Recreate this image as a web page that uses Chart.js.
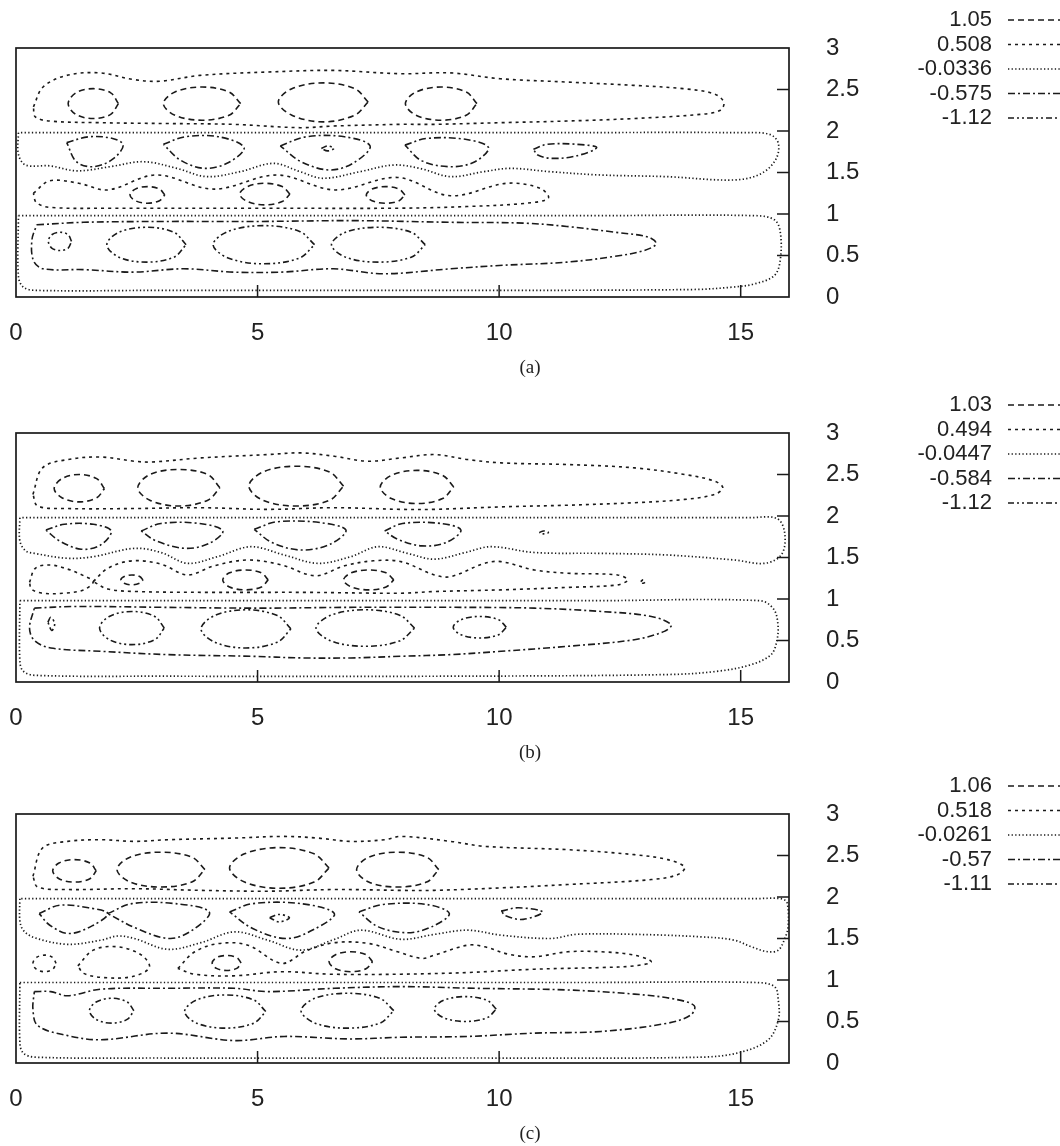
<!DOCTYPE html>
<html>
<head>
<meta charset="utf-8">
<script src="https://cdn.jsdelivr.net/npm/chart.js@4.4.1/dist/chart.umd.min.js"></script>
<style>
  body { margin: 0; background: #fff; }
  #page { position: relative; width: 1060px; height: 1146px; overflow: hidden; }
  canvas { position: absolute; left: 0; }
  .cap { position: absolute; left: 0; width: 1060px; text-align: center;
         font: 19px 'Liberation Serif', 'Times New Roman', serif; color: #222; line-height: 22px; }
</style>
</head>
<body>
<div id="page">
  <canvas id="pa" width="1060" height="380" style="top:0"></canvas>
  <canvas id="pb" width="1060" height="380" style="top:385px"></canvas>
  <canvas id="pc" width="1060" height="380" style="top:766px"></canvas>
  <div class="cap" style="top:356px">(a)</div>
  <div class="cap" style="top:741px">(b)</div>
  <div class="cap" style="top:1122px">(c)</div>
</div>
<script>
'use strict';

// contour levels of each panel (legend)
const levelsA = ['1.05', '0.508', '-0.0336', '-0.575', '-1.12'];
const levelsB = ['1.03', '0.494', '-0.0447', '-0.584', '-1.12'];
const levelsC = ['1.06', '0.518', '-0.0261', '-0.57', '-1.11'];

const xTicks = [0, 5, 10, 15];
const yTicks = [0, 0.5, 1, 1.5, 2, 2.5, 3];

// ---- panel (a) contours, [x, y] ----
const aDot1 = [[0.05,1.98],[0.05,1.72],[0.2,1.59],[0.7,1.58],[1.26,1.52],[1.95,1.57],[2.64,1.63],[3.33,1.55],[3.95,1.45],[4.64,1.51],[5.33,1.61],[5.88,1.51],[6.36,1.43],[7.12,1.51],[7.81,1.59],[8.36,1.55],[8.99,1.45],[9.68,1.51],[10.23,1.55],[11.05,1.51],[12.09,1.47],[13.47,1.45],[14.85,1.41],[15.4,1.48],[15.72,1.65],[15.78,1.85],[15.6,1.96],[15.0,1.98],[11,1.98],[6,1.98],[0.05,1.98]];
const aDot2 = [[0.05,0.98],[6,0.98],[12,0.98],[15.3,0.98],[15.7,0.93],[15.82,0.78],[15.82,0.45],[15.7,0.26],[15.3,0.16],[14.85,0.12],[14.0,0.09],[9,0.08],[3,0.08],[0.4,0.08],[0.15,0.12],[0.05,0.25],[0.05,0.98]];
const aSd1 = [[0.36,2.29],[0.56,2.53],[1.05,2.67],[1.74,2.70],[2.43,2.62],[2.98,2.60],[3.81,2.67],[5.19,2.71],[6.57,2.73],[7.95,2.69],[8.99,2.70],[10.02,2.63],[11.4,2.59],[12.78,2.55],[13.81,2.51],[14.44,2.45],[14.65,2.35],[14.58,2.25],[14.16,2.20],[12.78,2.15],[11.4,2.12],[10.02,2.10],[8.64,2.08],[7.95,2.08],[6.57,2.06],[5.88,2.04],[4.5,2.08],[3.12,2.09],[1.74,2.10],[0.7,2.12],[0.4,2.17],[0.36,2.29]];
const aSd2 = [[0.36,1.25],[0.7,1.40],[1.3,1.37],[1.9,1.29],[2.9,1.47],[4.1,1.30],[5.4,1.47],[6.6,1.29],[7.9,1.44],[8.99,1.22],[10.16,1.37],[10.85,1.31],[11.02,1.19],[10.57,1.13],[9.33,1.09],[7.95,1.07],[5,1.07],[2,1.07],[0.7,1.08],[0.42,1.14],[0.36,1.25]];
const aLd1 = [[2.12,2.33],[1.96,2.46],[1.6,2.51],[1.24,2.46],[1.08,2.33],[1.24,2.20],[1.6,2.15],[1.96,2.20]];
const aLd2 = [[4.65,2.33],[4.41,2.47],[3.85,2.53],[3.29,2.47],[3.05,2.33],[3.29,2.19],[3.85,2.13],[4.41,2.19]];
const aLd3 = [[7.29,2.35],[7.01,2.51],[6.36,2.58],[5.71,2.51],[5.43,2.35],[5.71,2.19],[6.36,2.11],[7.01,2.19]];
const aLd4 = [[9.54,2.33],[9.32,2.47],[8.8,2.53],[8.28,2.47],[8.06,2.33],[8.28,2.19],[8.8,2.13],[9.32,2.19]];
const aLd5 = [[3.08,1.23],[2.97,1.30],[2.72,1.33],[2.47,1.30],[2.36,1.23],[2.47,1.16],[2.72,1.13],[2.97,1.16]];
const aLd6 = [[5.67,1.24],[5.51,1.33],[5.15,1.37],[4.79,1.33],[4.63,1.24],[4.79,1.15],[5.15,1.11],[5.51,1.15]];
const aLd7 = [[8.05,1.23],[7.93,1.30],[7.65,1.33],[7.37,1.30],[7.25,1.23],[7.37,1.16],[7.65,1.13],[7.93,1.16]];
const aDd1 = [[0.43,0.87],[1.4,0.90],[3,0.91],[5,0.91],[7,0.92],[9,0.90],[10.5,0.89],[11.4,0.85],[12.4,0.78],[13.1,0.72],[13.25,0.64],[13.0,0.56],[12.4,0.49],[11.4,0.42],[10.0,0.38],[9.0,0.34],[7.6,0.28],[6.57,0.34],[5.5,0.30],[4.5,0.30],[3.47,0.34],[2.43,0.30],[1.4,0.33],[0.56,0.34],[0.36,0.44],[0.33,0.69],[0.43,0.87]];
const aDd2 = [[1.05,1.86],[1.5,1.93],[2.0,1.91],[2.22,1.83],[2.0,1.66],[1.6,1.57],[1.25,1.63]];
const aDd3 = [[3.05,1.84],[3.5,1.93],[4.2,1.93],[4.72,1.80],[4.4,1.62],[3.9,1.55],[3.4,1.65]];
const aDd4 = [[5.47,1.82],[6.0,1.93],[6.8,1.93],[7.33,1.82],[7.0,1.62],[6.5,1.53],[5.9,1.63]];
const aDd5 = [[8.05,1.83],[8.5,1.91],[9.3,1.90],[9.78,1.80],[9.5,1.63],[9.0,1.57],[8.4,1.64]];
const aDd6 = [[10.71,1.78],[11.0,1.84],[11.6,1.84],[12.02,1.80],[11.6,1.70],[11.1,1.67],[10.8,1.71]];
const aDdd1 = [[6.32,1.79],[6.45,1.82],[6.58,1.79],[6.45,1.76]];
const aDdd2 = [[1.15,0.67],[1.08,0.75],[0.91,0.78],[0.74,0.75],[0.67,0.67],[0.74,0.59],[0.91,0.56],[1.08,0.59]];
const aDdd3 = [[3.52,0.63],[3.27,0.78],[2.7,0.84],[2.13,0.78],[1.88,0.63],[2.13,0.48],[2.7,0.42],[3.27,0.48]];
const aDdd4 = [[6.18,0.63],[5.87,0.79],[5.13,0.86],[4.39,0.79],[4.08,0.63],[4.39,0.47],[5.13,0.40],[5.87,0.47]];
const aDdd5 = [[8.47,0.63],[8.18,0.78],[7.5,0.84],[6.82,0.78],[6.53,0.63],[6.82,0.48],[7.5,0.42],[8.18,0.48]];

// ---- panel (b) ----
const bDot1 = [[0.08,1.98],[0.08,1.7],[0.2,1.58],[0.38,1.55],[1.07,1.49],[1.6,1.51],[2.45,1.61],[3.0,1.56],[3.55,1.43],[4.17,1.51],[4.86,1.63],[5.55,1.53],[6.25,1.43],[6.93,1.51],[7.49,1.63],[8.1,1.55],[8.66,1.48],[9.3,1.56],[9.83,1.63],[10.73,1.56],[12.1,1.55],[13.49,1.53],[14.87,1.47],[15.5,1.43],[15.85,1.54],[15.91,1.80],[15.75,1.97],[15.2,1.98],[11,1.98],[6,1.98],[0.08,1.98]];
const bDot2 = [[0.08,0.98],[6,0.98],[12,0.98],[15.4,0.98],[15.68,0.88],[15.77,0.70],[15.75,0.50],[15.63,0.33],[15.22,0.21],[14.53,0.13],[13.5,0.09],[9,0.07],[3,0.07],[0.4,0.08],[0.15,0.13],[0.08,0.25],[0.08,0.98]];
const bSd1 = [[0.35,2.26],[0.55,2.58],[1.07,2.68],[1.76,2.71],[2.45,2.66],[2.8,2.65],[3.83,2.70],[5.21,2.74],[5.9,2.76],[6.59,2.72],[7.28,2.66],[7.97,2.70],[8.66,2.74],[9.35,2.68],[10.04,2.64],[11.42,2.62],[12.8,2.58],[13.84,2.50],[14.46,2.42],[14.63,2.34],[14.46,2.26],[13.84,2.20],[12.8,2.16],[11.42,2.13],[10.04,2.11],[8.66,2.08],[7.97,2.08],[6.59,2.10],[5.21,2.08],[3.83,2.10],[2.45,2.09],[1.07,2.09],[0.45,2.12],[0.35,2.26]];
const bSd2 = [[0.28,1.20],[0.4,1.37],[0.7,1.41],[1.07,1.36],[1.4,1.28],[1.6,1.21],[1.4,1.11],[1.0,1.07],[0.55,1.07],[0.32,1.12],[0.28,1.20]];
const bSd3 = [[1.6,1.21],[1.9,1.37],[2.4,1.46],[3.0,1.42],[3.55,1.29],[4.1,1.40],[4.8,1.47],[5.5,1.41],[6.2,1.28],[6.8,1.40],[7.4,1.46],[7.97,1.45],[8.66,1.29],[9.0,1.27],[9.7,1.43],[10.04,1.45],[10.73,1.35],[11.42,1.31],[12.45,1.29],[12.66,1.23],[12.45,1.17],[11.42,1.14],[10.04,1.11],[8.66,1.09],[7.97,1.07],[6,1.08],[4,1.08],[2.5,1.09],[1.9,1.12],[1.6,1.21]];
const bSd4 = [[12.93,1.21],[12.98,1.23],[13.03,1.21],[12.98,1.19]];
const bLd1 = [[1.83,2.33],[1.67,2.45],[1.31,2.50],[0.95,2.45],[0.79,2.33],[0.95,2.22],[1.31,2.17],[1.67,2.22]];
const bLd2 = [[4.22,2.34],[3.97,2.50],[3.37,2.56],[2.77,2.50],[2.52,2.34],[2.77,2.19],[3.37,2.12],[3.97,2.19]];
const bLd3 = [[6.78,2.36],[6.49,2.53],[5.8,2.60],[5.11,2.53],[4.82,2.36],[5.11,2.19],[5.8,2.12],[6.49,2.19]];
const bLd4 = [[9.06,2.35],[8.83,2.49],[8.3,2.55],[7.77,2.49],[7.54,2.35],[7.77,2.21],[8.3,2.15],[8.83,2.21]];
const bLd5 = [[2.63,1.23],[2.56,1.27],[2.4,1.29],[2.24,1.27],[2.17,1.23],[2.24,1.19],[2.4,1.17],[2.56,1.19]];
const bLd6 = [[5.22,1.23],[5.08,1.315],[4.75,1.35],[4.42,1.315],[4.28,1.23],[4.42,1.145],[4.75,1.11],[5.08,1.145]];
const bLd7 = [[7.82,1.23],[7.66,1.315],[7.3,1.35],[6.94,1.315],[6.78,1.23],[6.94,1.145],[7.3,1.11],[7.66,1.145]];
const bDd1 = [[0.38,0.89],[1.2,0.91],[3,0.90],[5,0.89],[7,0.90],[9,0.90],[10.73,0.89],[12.11,0.85],[13.15,0.79],[13.56,0.69],[13.42,0.61],[12.8,0.51],[11.42,0.43],[10.04,0.37],[9.0,0.33],[7.97,0.31],[6.93,0.29],[5.9,0.29],[4.86,0.31],[3.14,0.33],[1.76,0.37],[0.72,0.41],[0.38,0.50],[0.28,0.65],[0.38,0.89]];
const bDd2 = [[0.62,1.83],[1.0,1.90],[1.6,1.90],[1.97,1.82],[1.75,1.65],[1.35,1.60],[0.9,1.70]];
const bDd3 = [[2.59,1.82],[3.0,1.91],[3.8,1.91],[4.28,1.82],[4.0,1.67],[3.5,1.61],[2.9,1.70]];
const bDd4 = [[4.93,1.84],[5.4,1.93],[6.3,1.92],[6.83,1.83],[6.5,1.66],[5.9,1.59],[5.3,1.68]];
const bDd5 = [[7.63,1.82],[8.0,1.91],[8.8,1.91],[9.21,1.83],[8.9,1.68],[8.4,1.64],[7.9,1.72]];
const bDdd1 = [[10.83,1.80],[10.92,1.82],[11.02,1.80],[10.92,1.785]];
const bDdd2 = [[0.66,0.72],[0.72,0.78],[0.8,0.70],[0.74,0.62]];
const bDdd3 = [[3.07,0.65],[2.87,0.79],[2.4,0.85],[1.93,0.79],[1.73,0.65],[1.93,0.51],[2.4,0.45],[2.87,0.51]];
const bDdd4 = [[5.69,0.64],[5.41,0.80],[4.76,0.87],[4.11,0.80],[3.83,0.64],[4.11,0.48],[4.76,0.41],[5.41,0.48]];
const bDdd5 = [[8.25,0.65],[7.94,0.805],[7.23,0.87],[6.52,0.805],[6.21,0.65],[6.52,0.495],[7.23,0.43],[7.94,0.495]];
const bDdd6 = [[10.15,0.66],[9.99,0.75],[9.6,0.79],[9.21,0.75],[9.05,0.66],[9.21,0.57],[9.6,0.53],[9.99,0.57]];

// ---- panel (c) ----
const cDot1 = [[0.08,1.98],[0.08,1.72],[0.15,1.60],[0.38,1.51],[1.07,1.43],[1.76,1.48],[2.1,1.53],[2.45,1.50],[3.14,1.37],[3.83,1.45],[4.52,1.58],[5.21,1.48],[5.9,1.36],[6.59,1.49],[7.14,1.60],[7.97,1.49],[8.66,1.55],[9.35,1.60],[10.04,1.54],[11.07,1.50],[11.6,1.55],[12.8,1.55],[14.18,1.52],[14.87,1.48],[15.22,1.40],[15.57,1.34],[15.78,1.36],[15.9,1.48],[15.98,1.64],[15.96,1.93],[15.84,1.98],[15.3,1.98],[11,1.98],[6,1.98],[0.08,1.98]];
const cDot2 = [[0.08,0.97],[6,0.97],[12,0.97],[15.3,0.97],[15.7,0.92],[15.78,0.75],[15.78,0.52],[15.57,0.28],[15.0,0.13],[14.18,0.07],[9,0.06],[3,0.06],[0.4,0.07],[0.15,0.12],[0.08,0.25],[0.08,0.97]];
const cSd1 = [[0.35,2.25],[0.55,2.59],[1.07,2.67],[1.76,2.69],[2.45,2.67],[3.14,2.69],[4.52,2.71],[5.55,2.73],[6.25,2.71],[6.93,2.67],[7.63,2.69],[7.97,2.73],[9.0,2.67],[9.7,2.61],[11.42,2.57],[12.8,2.51],[13.49,2.45],[13.84,2.36],[13.7,2.27],[13.15,2.21],[11.42,2.15],[10.04,2.11],[8.66,2.08],[7.97,2.08],[6.59,2.09],[5.21,2.07],[3.83,2.08],[2.45,2.10],[1.07,2.09],[0.45,2.12],[0.35,2.25]];
const cSd2 = [[0.83,1.20],[0.76,1.27],[0.59,1.30],[0.42,1.27],[0.35,1.20],[0.42,1.13],[0.59,1.10],[0.76,1.13]];
const cSd3 = [[1.28,1.17],[1.6,1.36],[2.1,1.40],[2.6,1.30],[2.76,1.15],[2.4,1.04],[1.8,1.03],[1.4,1.08],[1.28,1.17]];
const cSd4 = [[3.35,1.14],[3.7,1.34],[4.2,1.44],[4.8,1.42],[5.5,1.20],[6.0,1.35],[6.6,1.45],[7.3,1.44],[7.9,1.34],[8.4,1.26],[8.66,1.30],[9.35,1.42],[9.7,1.40],[10.2,1.31],[10.73,1.28],[11.42,1.34],[12.11,1.34],[12.8,1.30],[13.15,1.22],[12.8,1.17],[12.11,1.15],[10.73,1.13],[9.35,1.09],[7.97,1.07],[6.5,1.07],[5.5,1.10],[4.5,1.05],[3.7,1.07],[3.35,1.14]];
const cLd1 = [[1.66,2.315],[1.53,2.41],[1.21,2.45],[0.89,2.41],[0.76,2.315],[0.89,2.22],[1.21,2.18],[1.53,2.22]];
const cLd2 = [[3.91,2.33],[3.64,2.48],[3.0,2.54],[2.36,2.48],[2.09,2.33],[2.36,2.18],[3.0,2.12],[3.64,2.18]];
const cLd3 = [[6.48,2.35],[6.17,2.52],[5.45,2.595],[4.73,2.52],[4.42,2.35],[4.73,2.18],[5.45,2.105],[6.17,2.18]];
const cLd4 = [[8.75,2.33],[8.5,2.48],[7.9,2.54],[7.3,2.48],[7.05,2.33],[7.3,2.18],[7.9,2.12],[8.5,2.18]];
const cLd5 = [[4.66,1.205],[4.57,1.27],[4.36,1.295],[4.15,1.27],[4.06,1.205],[4.15,1.14],[4.36,1.115],[4.57,1.14]];
const cLd6 = [[7.38,1.22],[7.245,1.305],[6.93,1.34],[6.615,1.305],[6.48,1.22],[6.615,1.135],[6.93,1.10],[7.245,1.135]];
const cDd1 = [[0.38,0.86],[0.72,0.86],[1.07,0.81],[1.76,0.89],[3.14,0.90],[4.52,0.90],[5.21,0.86],[6.59,0.90],[7.97,0.92],[9.5,0.90],[11.42,0.88],[12.8,0.83],[13.63,0.77],[14.04,0.69],[13.97,0.58],[13.49,0.48],[12.11,0.38],[10.73,0.36],[9.35,0.32],[7.97,0.31],[6.9,0.29],[5.55,0.32],[4.52,0.27],[3.14,0.36],[1.76,0.28],[1.07,0.33],[0.45,0.45],[0.35,0.65],[0.38,0.86]];
const cDd2 = [[0.48,1.80],[0.9,1.90],[1.5,1.87],[1.9,1.80],[1.6,1.66],[1.1,1.56],[0.7,1.66]];
const cDd3 = [[1.9,1.80],[2.4,1.92],[3.3,1.92],[4.0,1.82],[3.7,1.62],[3.2,1.50],[2.5,1.62]];
const cDd4 = [[4.42,1.82],[4.9,1.92],[5.9,1.92],[6.59,1.80],[6.2,1.62],[5.6,1.50],[4.9,1.62]];
const cDd5 = [[7.1,1.82],[7.6,1.91],[8.5,1.91],[8.97,1.80],[8.6,1.64],[8.1,1.57],[7.5,1.64]];
const cDd6 = [[10.04,1.83],[10.4,1.87],[10.9,1.82],[10.5,1.73],[10.15,1.77]];
const cDdd1 = [[5.25,1.75],[5.45,1.79],[5.66,1.75],[5.45,1.70]];
const cDdd2 = [[2.44,0.63],[2.30,0.735],[1.98,0.78],[1.66,0.735],[1.52,0.63],[1.66,0.525],[1.98,0.48],[2.30,0.525]];
const cDdd3 = [[5.17,0.62],[4.92,0.76],[4.33,0.82],[3.74,0.76],[3.49,0.62],[3.74,0.48],[4.33,0.42],[4.92,0.48]];
const cDdd4 = [[7.82,0.63],[7.53,0.78],[6.86,0.84],[6.19,0.78],[5.9,0.63],[6.19,0.48],[6.86,0.42],[7.53,0.48]];
const cDdd5 = [[9.94,0.65],[9.75,0.755],[9.3,0.80],[8.85,0.755],[8.66,0.65],[8.85,0.545],[9.3,0.50],[9.75,0.545]];

// level index: 0 long dash, 1 short dash, 2 dotted, 3 dash-dot, 4 dash-dot-dot
const contoursA = [
    [2, aDot1], [2, aDot2], [1, aSd1], [1, aSd2],
    [0, aLd1], [0, aLd2], [0, aLd3], [0, aLd4], [0, aLd5], [0, aLd6], [0, aLd7],
    [3, aDd1], [3, aDd2], [3, aDd3], [3, aDd4], [3, aDd5], [3, aDd6],
    [4, aDdd1], [4, aDdd2], [4, aDdd3], [4, aDdd4], [4, aDdd5],
];
const contoursB = [
    [2, bDot1], [2, bDot2], [1, bSd1], [1, bSd2], [1, bSd3], [1, bSd4],
    [0, bLd1], [0, bLd2], [0, bLd3], [0, bLd4], [0, bLd5], [0, bLd6], [0, bLd7],
    [3, bDd1], [3, bDd2], [3, bDd3], [3, bDd4], [3, bDd5],
    [4, bDdd1], [4, bDdd2], [4, bDdd3], [4, bDdd4], [4, bDdd5], [4, bDdd6],
];
const contoursC = [
    [2, cDot1], [2, cDot2], [1, cSd1], [1, cSd2], [1, cSd3], [1, cSd4],
    [0, cLd1], [0, cLd2], [0, cLd3], [0, cLd4], [0, cLd5], [0, cLd6],
    [3, cDd1], [3, cDd2], [3, cDd3], [3, cDd4], [3, cDd5], [3, cDd6],
    [4, cDdd1], [4, cDdd2], [4, cDdd3], [4, cDdd4], [4, cDdd5],
];

const INK = '#1a1a1a';
const DASHES = [[6, 4], [3, 4], [1.3, 2.3], [7, 3, 2, 3], [6, 3, 2, 3, 2, 3]];
const WIDTHS = [1.6, 1.6, 1.7, 1.6, 1.6];
const SANS = "'Liberation Sans', Arial, Helvetica, sans-serif";

// box, inward ticks and the line-style key
const framePlugin = {
    id: 'frame',
    afterDatasetsDraw(chart) {
        const ctx = chart.ctx;
        const a = chart.chartArea;
        const sx = chart.scales.x;
        const sy = chart.scales.y;
        ctx.save();
        ctx.strokeStyle = INK;
        ctx.setLineDash([]);
        ctx.lineWidth = 1.7;
        ctx.strokeRect(a.left, a.top, a.right - a.left, a.bottom - a.top);
        ctx.lineWidth = 1.5;
        ctx.beginPath();
        sx.ticks.forEach(function (t) {
            let px = sx.getPixelForValue(t.value);
            if (px > a.left + 2 && px < a.right - 2) {
                ctx.moveTo(px, a.bottom);
                ctx.lineTo(px, a.bottom - 12);
            }
        });
        sy.ticks.forEach(function (t) {
            let py = sy.getPixelForValue(t.value);
            if (py > a.top + 2 && py < a.bottom - 2) {
                ctx.moveTo(a.right, py);
                ctx.lineTo(a.right - 12, py);
            }
        });
        ctx.stroke();

        let levels = chart.options.plugins.frame.levels;
        ctx.font = '22px ' + SANS;
        ctx.fillStyle = '#222';
        ctx.textAlign = 'right';
        ctx.textBaseline = 'middle';
        levels.forEach(function (lab, i) {
            let y = 20 + i * 24.5;
            ctx.fillText(lab, 992, y);
            ctx.setLineDash(DASHES[i]);
            ctx.lineWidth = WIDTHS[i];
            ctx.beginPath();
            ctx.moveTo(1008, y);
            ctx.lineTo(1075, y);
            ctx.stroke();
        });
        ctx.restore();
    },
};

window.makePanel = function (id, levels, contours) {
    let datasets = contours.map(function (c) {
        let pts = c[1].slice();
        let first = pts[0], last = pts[pts.length - 1];
        if (first[0] !== last[0] || first[1] !== last[1]) {
            pts.push(first);
        }
        return {
            label: levels[c[0]],
            data: pts.map(p => ({x: p[0], y: p[1]})),
            showLine: true,
            borderColor: INK,
            borderWidth: WIDTHS[c[0]],
            borderDash: DASHES[c[0]],
            pointRadius: 0,
            tension: 0.35,
            fill: false,
        };
    });

    new Chart(document.getElementById(id), {
        type: 'scatter',
        data: {datasets: datasets},
        plugins: [framePlugin],
        options: {
            responsive: false,
            animation: false,
            events: [],
            layout: {padding: {left: 16, top: 48, right: 0, bottom: 0}},
            scales: {
                x: {
                    type: 'linear', position: 'bottom', min: 0, max: 16,
                    grid: {display: false, drawTicks: false},
                    border: {display: false},
                    afterBuildTicks: s => { s.ticks = xTicks.map(v => ({value: v})); },
                    afterFit: s => { s.height = 83; s.paddingLeft = 0; s.paddingRight = 0; },
                    ticks: {
                        padding: 22, maxRotation: 0, autoSkip: false,
                        color: '#222', font: {family: SANS, size: 24},
                        callback: v => String(v),
                    },
                },
                y: {
                    type: 'linear', position: 'right', min: 0, max: 3,
                    grid: {display: false, drawTicks: false},
                    border: {display: false},
                    afterBuildTicks: s => { s.ticks = yTicks.map(v => ({value: v})); },
                    afterFit: s => { s.width = 271; s.paddingTop = 0; s.paddingBottom = 0; },
                    ticks: {
                        padding: 37, autoSkip: false,
                        color: '#222', font: {family: SANS, size: 24},
                        callback: v => String(v),
                    },
                },
            },
            plugins: {
                legend: {display: false},
                tooltip: {enabled: false},
                frame: {levels: levels},
            },
        },
    });
};

makePanel('pa', levelsA, contoursA);
makePanel('pb', levelsB, contoursB);
makePanel('pc', levelsC, contoursC);
</script>
</body>
</html>
